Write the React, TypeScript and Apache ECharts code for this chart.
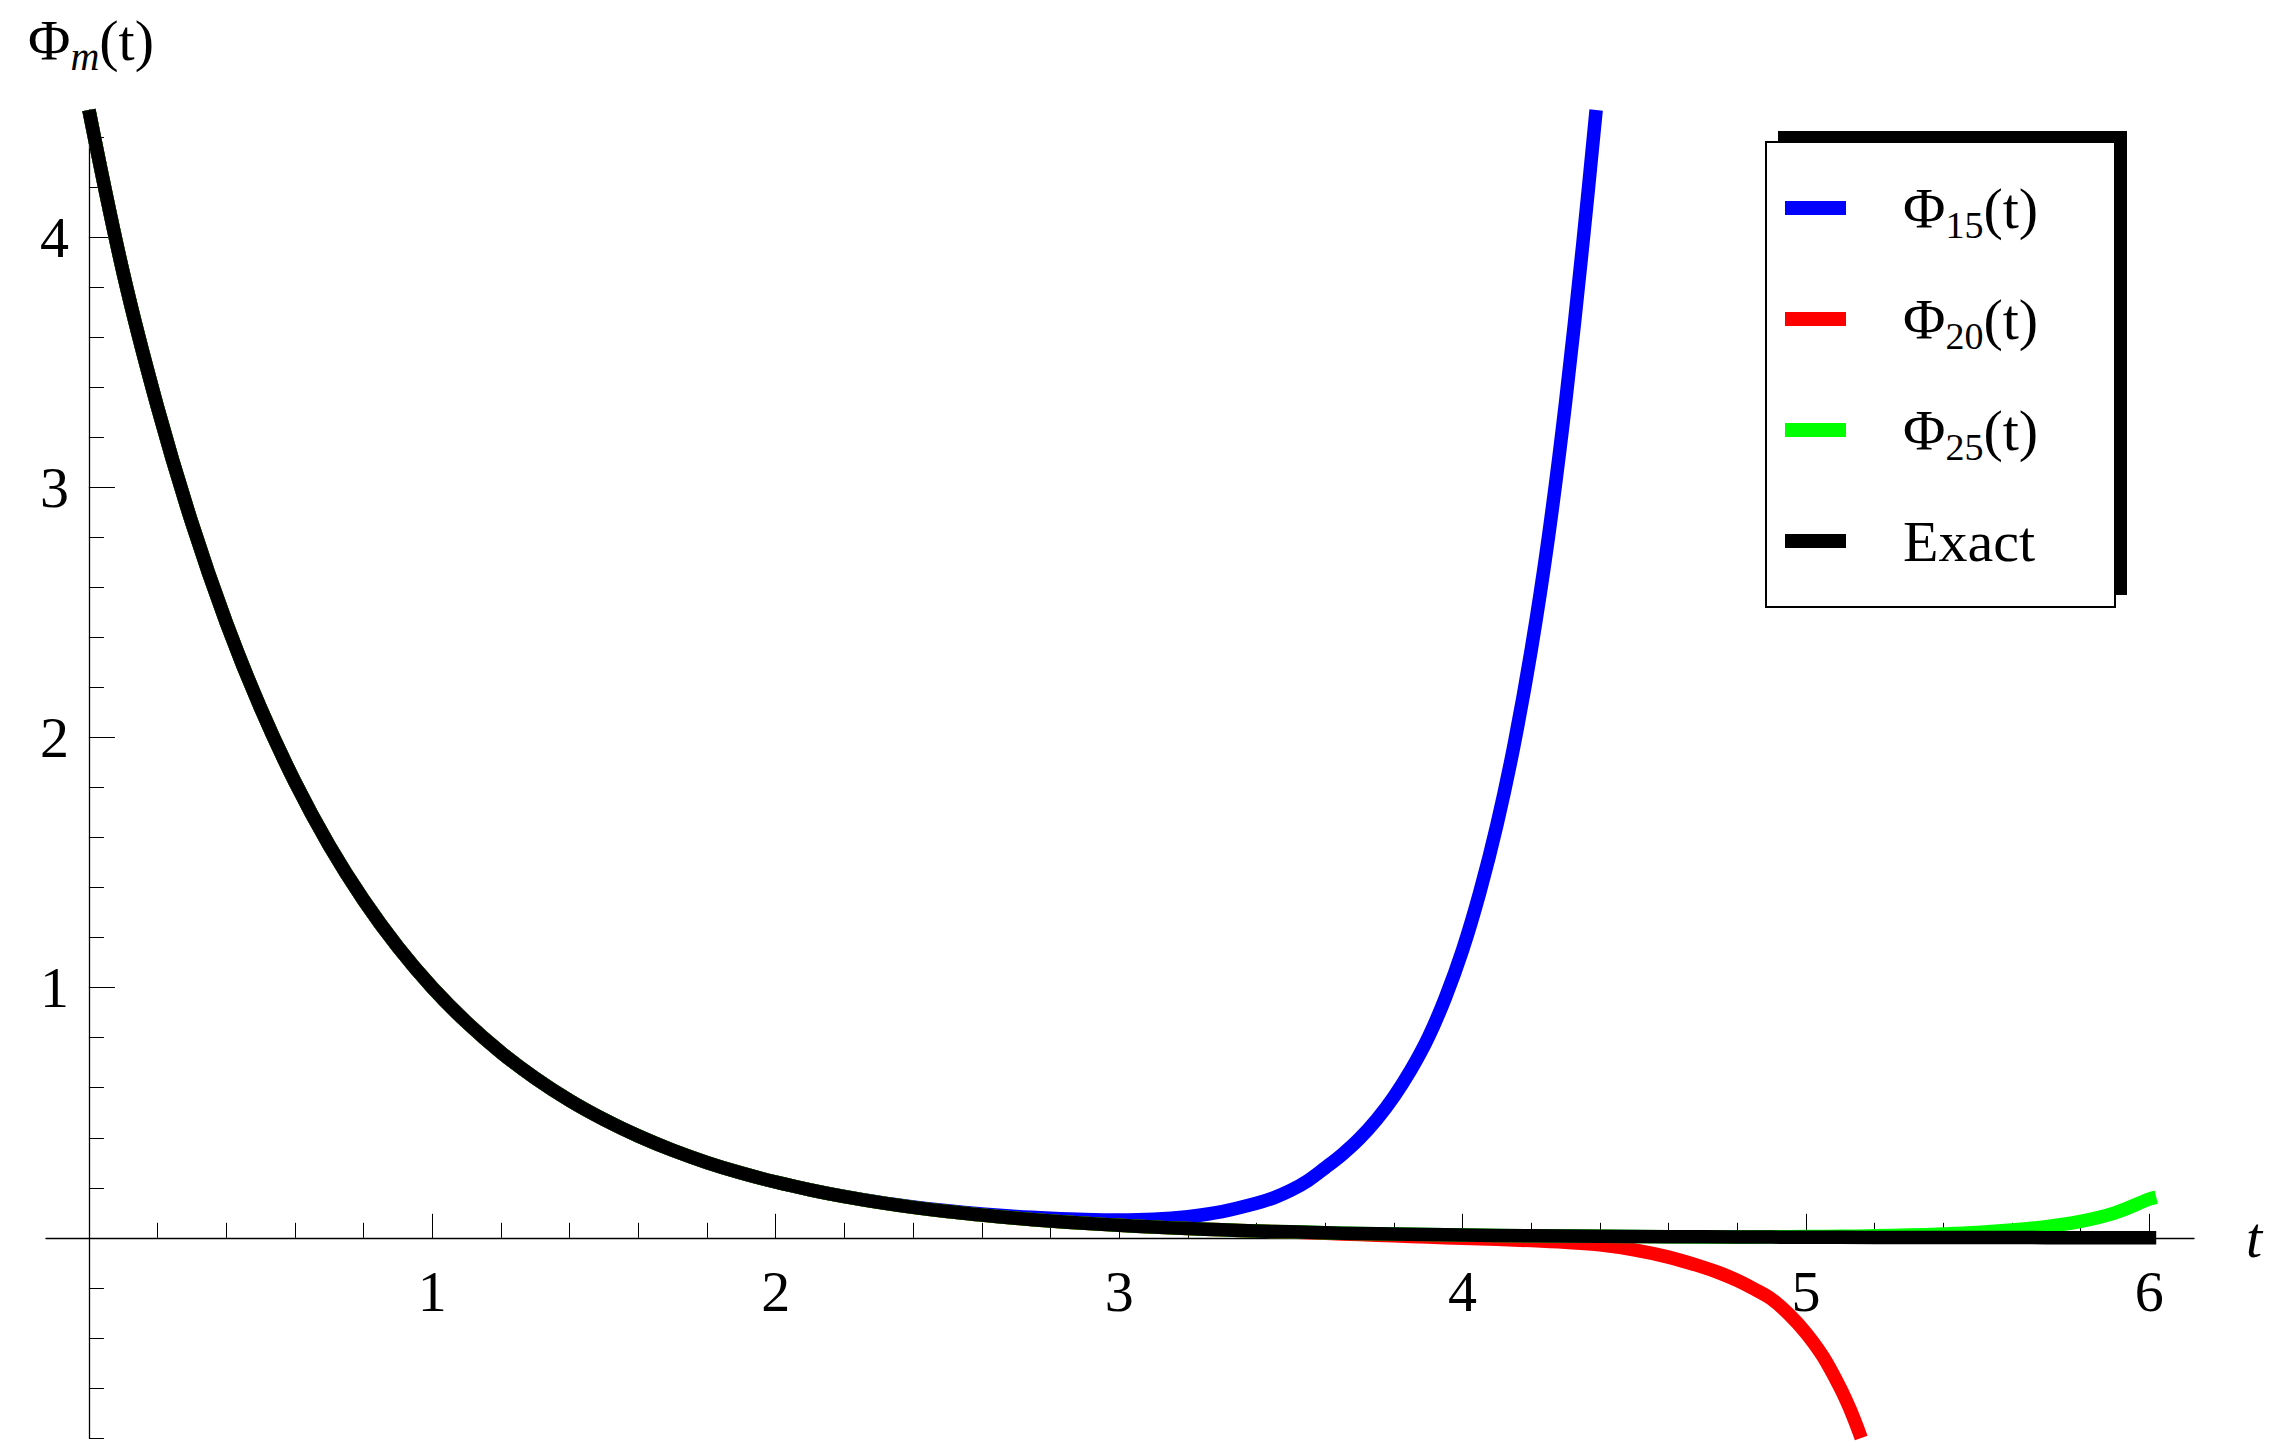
import React, { useEffect, useRef } from "react";
import * as echarts from "echarts";

// ---------- data ----------
const exactT = [0, 0.1, 0.2, 0.3, 0.4, 0.5, 0.6, 0.7, 0.8, 0.9, 1.0, 1.1, 1.2, 1.3, 1.4, 1.5, 1.6, 1.7, 1.8, 1.9, 2.0, 2.1, 2.2, 2.3, 2.4, 2.5, 2.6, 2.7, 2.8, 2.9, 3.0, 3.1, 3.2, 3.3, 3.4, 3.5, 3.6, 3.7, 3.8, 3.9, 4.0, 4.2, 4.4, 4.6, 4.8, 5.0, 5.2, 5.4, 5.6, 5.8, 6.0, 6.02];
const exactV = [4.508, 3.856, 3.319, 2.857, 2.459, 2.117, 1.822, 1.568, 1.35, 1.162, 1.0, 0.861, 0.741, 0.638, 0.549, 0.473, 0.407, 0.35, 0.301, 0.259, 0.223, 0.192, 0.165, 0.142, 0.122, 0.105, 0.091, 0.078, 0.067, 0.058, 0.05, 0.043, 0.037, 0.032, 0.027, 0.024, 0.02, 0.017, 0.015, 0.013, 0.011, 0.008, 0.006, 0.0045, 0.0034, 0.0025, 0.0018, 0.0014, 0.001, 0.0008, 0.0006, 0.0006];

const phi15T = [0, 0.1, 0.2, 0.3, 0.4, 0.5, 0.6, 0.7, 0.8, 0.9, 1.0, 1.1, 1.2, 1.3, 1.4, 1.5, 1.6, 1.7, 1.8, 1.9, 2.0, 2.1, 2.2, 2.3, 2.4, 2.5, 2.6, 2.7, 2.8, 2.9, 3.0, 3.1, 3.2, 3.3, 3.4, 3.45, 3.5, 3.55, 3.6, 3.65, 3.7, 3.75, 3.8, 3.85, 3.9, 3.95, 4.0, 4.05, 4.1, 4.15, 4.2, 4.25, 4.3, 4.35, 4.389];
const phi15V = [4.508, 3.856, 3.319, 2.857, 2.459, 2.117, 1.822, 1.568, 1.35, 1.162, 1.0, 0.861, 0.741, 0.638, 0.549, 0.473, 0.407, 0.35, 0.301, 0.259, 0.223, 0.192, 0.166, 0.143, 0.124, 0.108, 0.095, 0.085, 0.078, 0.073, 0.071, 0.074, 0.085, 0.105, 0.138, 0.16, 0.19, 0.229, 0.28, 0.334, 0.397, 0.473, 0.564, 0.672, 0.8, 0.96, 1.15, 1.38, 1.65, 1.97, 2.35, 2.8, 3.34, 3.97, 4.508];

const phi20T = [0, 0.1, 0.2, 0.3, 0.4, 0.5, 0.6, 0.7, 0.8, 0.9, 1.0, 1.1, 1.2, 1.3, 1.4, 1.5, 1.6, 1.7, 1.8, 1.9, 2.0, 2.1, 2.2, 2.3, 2.4, 2.5, 2.6, 2.7, 2.8, 2.9, 3.0, 3.1, 3.2, 3.3, 3.4, 3.5, 3.6, 3.7, 3.8, 3.9, 4.0, 4.1, 4.2, 4.3, 4.4, 4.5, 4.6, 4.7, 4.75, 4.8, 4.85, 4.9, 4.95, 5.0, 5.05, 5.1, 5.13, 5.161];
const phi20V = [4.508, 3.856, 3.319, 2.857, 2.459, 2.117, 1.822, 1.568, 1.35, 1.162, 1.0, 0.861, 0.741, 0.638, 0.549, 0.473, 0.407, 0.35, 0.301, 0.259, 0.223, 0.192, 0.165, 0.142, 0.122, 0.105, 0.091, 0.078, 0.067, 0.058, 0.05, 0.043, 0.037, 0.032, 0.027, 0.023, 0.018, 0.013, 0.008, 0.003, -0.002, -0.006, -0.011, -0.018, -0.028, -0.048, -0.077, -0.117, -0.141, -0.17, -0.205, -0.245, -0.305, -0.38, -0.475, -0.6, -0.69, -0.8];

const phi25T = [0, 0.1, 0.2, 0.3, 0.4, 0.5, 0.6, 0.7, 0.8, 0.9, 1.0, 1.1, 1.2, 1.3, 1.4, 1.5, 1.6, 1.7, 1.8, 1.9, 2.0, 2.1, 2.2, 2.3, 2.4, 2.5, 2.6, 2.7, 2.8, 2.9, 3.0, 3.1, 3.2, 3.3, 3.4, 3.5, 3.6, 3.7, 3.8, 3.9, 4.0, 4.2, 4.4, 4.6, 4.8, 4.9, 5.0, 5.1, 5.2, 5.3, 5.4, 5.5, 5.6, 5.7, 5.8, 5.9, 6.0, 6.02];
const phi25V = [4.508, 3.856, 3.319, 2.857, 2.459, 2.117, 1.822, 1.568, 1.35, 1.162, 1.0, 0.861, 0.741, 0.638, 0.549, 0.473, 0.407, 0.35, 0.301, 0.259, 0.223, 0.192, 0.165, 0.142, 0.122, 0.105, 0.091, 0.078, 0.067, 0.058, 0.05, 0.043, 0.037, 0.032, 0.027, 0.024, 0.02, 0.017, 0.015, 0.013, 0.011, 0.008, 0.006, 0.0045, 0.0034, 0.004, 0.005, 0.006, 0.008, 0.011, 0.015, 0.021, 0.031, 0.045, 0.066, 0.1, 0.155, 0.163];

const seriesNames = ["Φ15(t)", "Φ20(t)", "Φ25(t)", "Exact"];
const seriesColors = ["#0000ff", "#ff0000", "#00ff00", "#000000"];

const xLabelValues = [1, 2, 3, 4, 5, 6];
const xMajorTicks = [1, 2, 3, 4, 5, 6];
const xMinorTicks = [0.2, 0.4, 0.6, 0.8, 1.0, 1.2, 1.4, 1.6, 1.8, 2.0, 2.2, 2.4, 2.6, 2.8, 3.0, 3.2, 3.4, 3.6, 3.8, 4.0, 4.2, 4.4, 4.6, 4.8, 5.0, 5.2, 5.4, 5.6, 5.8, 6.0];
const yLabelValues = [1, 2, 3, 4];
const yMajorTicks = [1, 2, 3, 4];
const yMinorTicks = [-0.8, -0.6, -0.4, -0.2, 0.2, 0.4, 0.6, 0.8, 1.0, 1.2, 1.4, 1.6, 1.8, 2.0, 2.2, 2.4, 2.6, 2.8, 3.0, 3.2, 3.4, 3.6, 3.8, 4.0, 4.2, 4.4];

const X_MIN = -0.125;
const X_MAX = 6.13;
const Y_MIN = -0.8;
const Y_MAX = 4.508;

const FONT = "'Liberation Serif', 'Times New Roman', Times, serif";

function pairs(t: number[], v: number[]) {
  return t.map((x, i) => [x, v[i]]);
}

export default function App() {
  const ref = useRef<HTMLDivElement>(null);

  useEffect(() => {
    if (!ref.current) return;
    const chart = echarts.init(ref.current, null, { renderer: "svg" });

    const lineSeries = (name: string, color: string, data: number[][]) => ({
      name,
      type: "line",
      data,
      symbol: "none",
      showSymbol: false,
      smooth: 0.35,
      clip: true,
      lineStyle: { color, width: 13.5, cap: "butt", join: "round" },
      itemStyle: { color },
      emphasis: { disabled: true },
      xAxisIndex: 0,
      yAxisIndex: 0,
    });

    // plot area: x from 46 to 2194, y from 110 to 1438; t=0 at x≈88.9, value 0 at y≈1237.8
    const gridBase = { containLabel: false, outerBoundsMode: "none" };
    const hidden = (gridIndex: number, min: number, max: number) => ({
      type: "value", gridIndex, min, max, show: false,
      axisLine: { show: false, onZero: false }, axisTick: { show: false }, axisLabel: { show: false }, splitLine: { show: false },
    });
    const tickStyle = { color: "#000", width: 1 };
    const axisLineStyle = { color: "#000", width: 1.3 };

    const option: any = {
      animation: false,
      backgroundColor: "#ffffff",
      grid: [
        { ...gridBase, left: 46, right: 92, top: 110, bottom: 18 },
        { ...gridBase, left: 46, right: 92, top: 110, bottom: 218.2 },
        { ...gridBase, left: 46, right: 92, top: 110, bottom: 218.2 },
        { ...gridBase, left: 88.93, right: 92, top: 110, bottom: 18 },
        { ...gridBase, left: 88.93, right: 92, top: 110, bottom: 18 },
      ],
      xAxis: [
        hidden(0, X_MIN, X_MAX),
        {
          type: "value",
          gridIndex: 1,
          min: X_MIN,
          max: X_MAX,
          position: "bottom",
          axisLine: { show: true, onZero: false, lineStyle: axisLineStyle },
          axisTick: { show: true, inside: true, length: 15, customValues: xMinorTicks, lineStyle: tickStyle },
          axisLabel: { show: true, customValues: xLabelValues, margin: 25, fontSize: 58, fontFamily: FONT, color: "#000" },
          splitLine: { show: false },
          name: "t",
          nameLocation: "end",
          nameGap: 52,
          nameTextStyle: { fontFamily: FONT, fontStyle: "italic", fontSize: 58, color: "#000" },
        },
        {
          type: "value",
          gridIndex: 2,
          min: X_MIN,
          max: X_MAX,
          position: "bottom",
          axisLine: { show: false, onZero: false },
          axisTick: { show: true, inside: true, length: 24, customValues: xMajorTicks, lineStyle: tickStyle },
          axisLabel: { show: false },
          splitLine: { show: false },
        },
        hidden(3, 0, 1),
        hidden(4, 0, 1),
      ],
      yAxis: [
        hidden(0, Y_MIN, Y_MAX),
        hidden(1, 0, 1),
        hidden(2, 0, 1),
        {
          type: "value",
          gridIndex: 3,
          min: Y_MIN,
          max: Y_MAX,
          position: "left",
          axisLine: { show: true, onZero: false, lineStyle: axisLineStyle },
          axisTick: { show: true, inside: true, length: 15, customValues: yMinorTicks, lineStyle: tickStyle },
          axisLabel: { show: true, customValues: yLabelValues, margin: 20, fontSize: 58, fontFamily: FONT, color: "#000" },
          splitLine: { show: false },
        },
        {
          type: "value",
          gridIndex: 4,
          min: Y_MIN,
          max: Y_MAX,
          position: "left",
          axisLine: { show: false, onZero: false },
          axisTick: { show: true, inside: true, length: 26, customValues: yMajorTicks, lineStyle: tickStyle },
          axisLabel: { show: false },
          splitLine: { show: false },
        },
      ],
      legend: {
        data: seriesNames,
        orient: "vertical",
        left: 1785,
        top: 172,
        padding: 0,
        itemGap: 39,
        itemWidth: 61,
        itemHeight: 14,
        icon: "rect",
        selectedMode: false,
        z: 6,
        formatter: (name: string) => {
          const m = name.match(/Φ(\d+)/);
          if (m) return `{sp| }{a|Φ}{s|${m[1]}}{a|(t)}`;
          return `{sp| }{e|${name}}`;
        },
        textStyle: {
          fontFamily: FONT,
          fontSize: 58,
          color: "#000",
          rich: {
            sp: { width: 52, fontSize: 20, lineHeight: 20 },
            a: { fontFamily: FONT, fontSize: 58, lineHeight: 72, color: "#000" },
            s: { fontFamily: FONT, fontSize: 38, lineHeight: 38, padding: [34, 0, 0, 0], color: "#000" },
            e: { fontFamily: FONT, fontSize: 58, lineHeight: 58, padding: [7, 0, 7, 0], color: "#000" },
          },
        },
      },
      graphic: {
        elements: [
          { type: "rect", z: 3, shape: { x: 1778, y: 131, width: 349, height: 464 }, style: { fill: "#000" } },
          { type: "rect", z: 3, shape: { x: 1766, y: 142, width: 349, height: 465 }, style: { fill: "#fff", stroke: "#000", lineWidth: 2 } },
          {
            type: "text",
            left: 28,
            top: 4,
            z: 5,
            style: {
              text: "{a|Φ}{m|m}{a|(t)}",
              fill: "#000",
              fontFamily: FONT,
              fontSize: 58,
              rich: {
                a: { fontFamily: FONT, fontSize: 58, lineHeight: 72, fill: "#000" },
                m: { fontFamily: FONT, fontSize: 40, fontStyle: "italic", lineHeight: 40, padding: [32, 0, 0, 0], fill: "#000" },
              },
            },
          },
        ],
      },
      series: [
        lineSeries(seriesNames[0], seriesColors[0], pairs(phi15T, phi15V)),
        lineSeries(seriesNames[1], seriesColors[1], pairs(phi20T, phi20V)),
        lineSeries(seriesNames[2], seriesColors[2], pairs(phi25T, phi25V)),
        lineSeries(seriesNames[3], seriesColors[3], pairs(exactT, exactV)),
      ],
    };

    chart.setOption(option);
    return () => chart.dispose();
  }, []);

  return (
    <div
      ref={ref}
      style={{ position: "fixed", left: 0, top: 0, width: 2286, height: 1456, background: "#fff" }}
    />
  );
}
